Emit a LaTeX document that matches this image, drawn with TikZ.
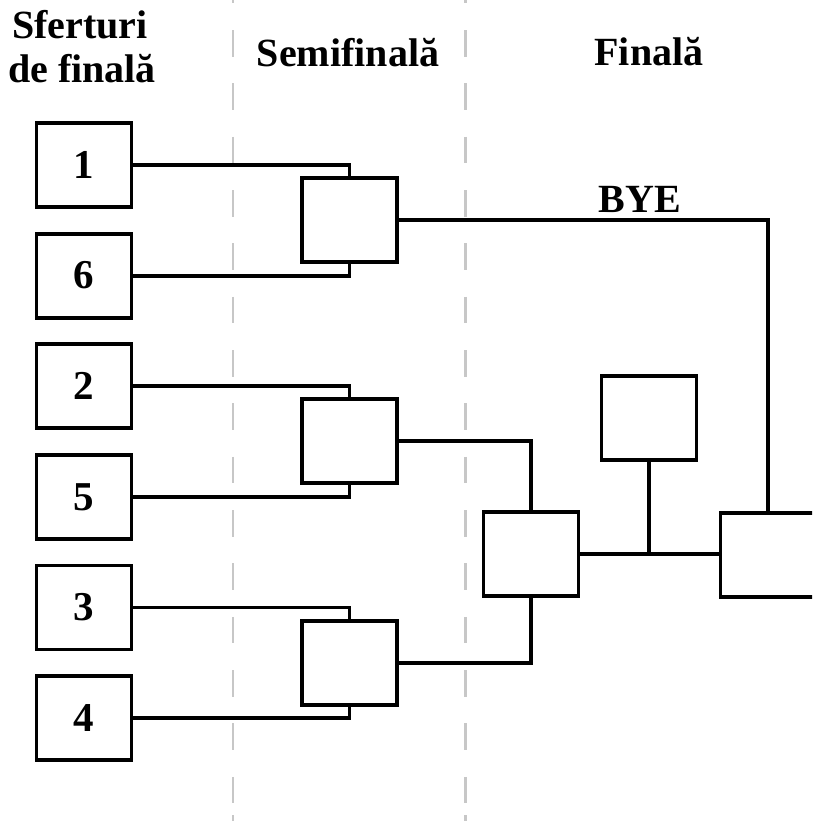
\documentclass[tikz,border=0pt]{standalone}
\usepackage{fontspec}
\setmainfont{Liberation Serif}
\begin{document}
\begin{tikzpicture}[x=1pt,y=-1pt,
  box/.style={draw, line width=3.8pt, minimum width=95pt, minimum height=84pt, inner sep=0pt, font=\bfseries\fontsize{41}{44}\selectfont},
  conn/.style={line width=3.8pt},
  sep/.style={draw=black!22, line width=2.2pt, dash pattern=on 26.67pt off 26.67pt},
  head/.style={font=\bfseries\fontsize{40}{44}\selectfont, anchor=base, inner sep=0pt}]
\useasboundingbox (0,0) rectangle (812,822);
\clip (0,0) rectangle (812,822);
% column separators
\coordinate (d1t) at (233,-23.33);
\coordinate (d1b) at (233,810);
\coordinate (d2t) at (465.5,-23.33);
\coordinate (d2b) at (465.5,810);
\coordinate (e1t) at (233,815);
\coordinate (e1b) at (233,821);
\coordinate (e2t) at (465.5,815);
\coordinate (e2b) at (465.5,821);
\draw[sep] (d1t) -- (d1b);
\draw[sep] (d2t) -- (d2b);
\draw[sep] (e1t) -- (e1b);
\draw[sep] (e2t) -- (e2b);
% headers
\node[head] (h1a) at (80,38) {Sferturi};
\node[head] (h1b) at (82,82) {de finală};
\node[head] (h2) at (348,66.5) {Semifinală};
\node[head] (h3) at (649,65) {Finală};
% quarter-finals
\node[box] (q1) at (84,165) {1};
\node[box] (q6) at (84,275.6) {6};
\node[box] (q2) at (84,386.2) {2};
\node[box] (q5) at (84,496.8) {5};
\node[box] (q3) at (84,607.4) {3};
\node[box] (q4) at (84,718) {4};
% semi-finals
\node[box] (s1) at (349.5,220) {};
\node[box] (s2) at (349.5,441) {};
\node[box] (s3) at (349.5,663) {};
% finals
\node[box] (f1) at (531,554) {};
\node[box] (t) at (649,418) {};
\node[box] (fin) at (768,555) {};
% connectors
\draw[conn] (q1.east) -| (s1.north);
\draw[conn] (q6.east) -| (s1.south);
\draw[conn] (q2.east) -| (s2.north);
\draw[conn] (q5.east) -| (s2.south);
\draw[conn] (q3.east) -| (s3.north);
\draw[conn] (q4.east) -| (s3.south);
\draw[conn] (s2.east) -| (f1.north);
\draw[conn] (s3.east) -| (f1.south);
\draw[conn] (s1.east) -| (fin.north);
\draw[conn] (f1.east) -- (f1.east -| fin.west);
\draw[conn] (t.south) -- (t.south |- f1.east);
\node[head] (bye) at (640,212) {BYE};
\end{tikzpicture}
\end{document}
